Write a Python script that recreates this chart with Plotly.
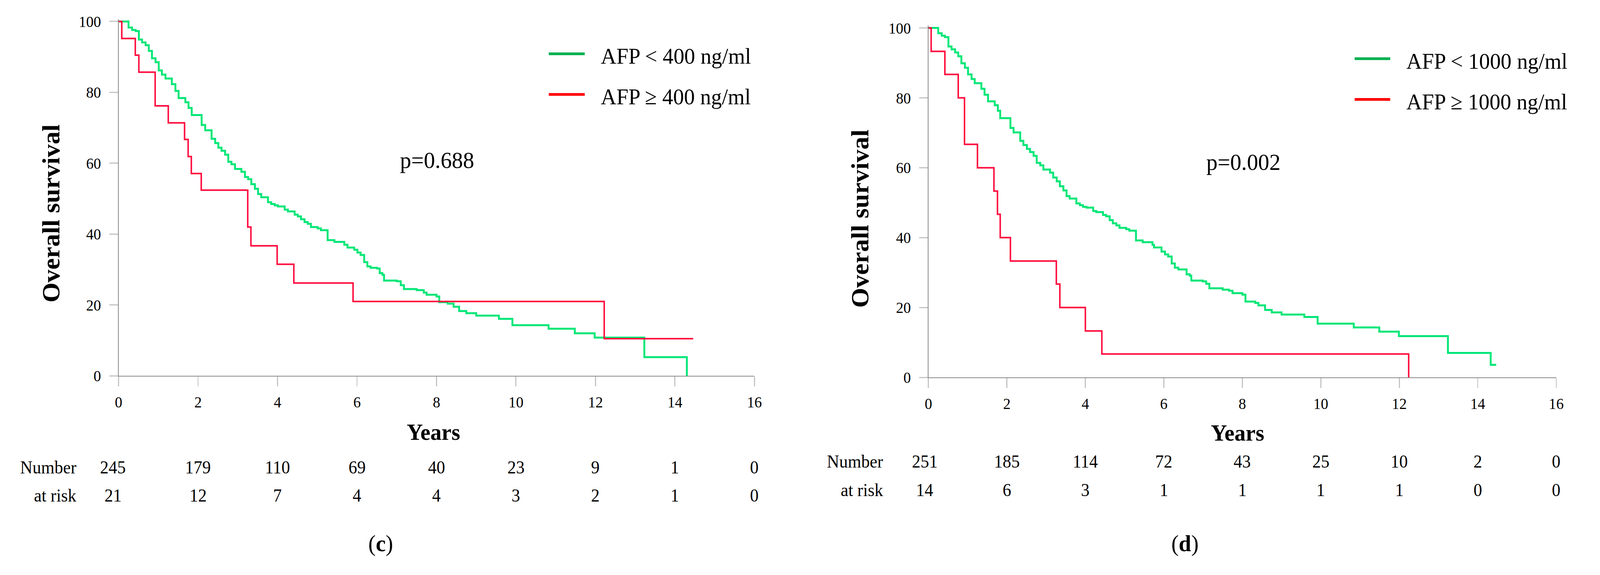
import plotly.graph_objects as go

W, H = 4288, 1472

# ---------------- data ----------------
# Panel (c): AFP cut-off 400 ng/ml
c_low_t = [0.25,0.34,0.43,0.51,0.59,0.68,0.76,0.84,0.93,1.01,1.09,1.18,1.34,1.43,1.51,1.68,1.76,1.84,2.09,2.18,
           2.34,2.43,2.51,2.59,2.68,2.76,2.84,2.93,3.09,3.18,3.26,3.34,3.43,3.51,3.59,3.76,3.84,3.93,4.01,4.18,
           4.26,4.43,4.51,4.59,4.68,4.76,4.84,5.01,5.09,5.26,5.43,5.68,5.76,5.93,6.01,6.09,6.18,6.26,6.34,6.50,
           6.57,6.64,6.68,7.00,7.10,7.18,7.50,7.68,7.75,8.00,8.07,8.28,8.43,8.57,8.75,9.00,9.57,9.91,10.82,11.48,
           11.98,13.23,14.30]
c_low_s = [98.3,97.6,97.3,94.9,94.1,93.3,91.7,89.6,88.5,86.2,85.0,83.9,82.3,80.4,78.4,77.2,75.6,73.6,70.8,69.3,
           66.9,65.7,64.4,63.5,62.4,60.4,59.7,58.4,57.6,56.1,55.5,54.1,52.8,51.3,50.4,49.0,48.5,48.1,47.8,46.9,
           46.4,45.5,45.0,44.2,43.4,42.9,42.0,41.6,41.1,38.3,37.8,37.0,36.2,35.6,34.8,34.1,32.1,30.9,30.5,30.3,
           29.0,28.5,26.9,26.7,25.6,24.5,24.2,23.5,22.9,22.4,20.8,20.4,19.5,18.3,17.7,17.0,16.1,14.3,13.3,12.0,
           10.8,5.3,0.0]
c_low_end = 14.30
c_high_t = [0.08,0.42,0.51,0.92,1.25,1.66,1.75,1.83,2.08,3.25,3.33,3.99,4.41,5.90,12.22]
c_high_s = [95.2,90.5,85.7,76.2,71.4,66.7,61.9,57.1,52.4,42.0,36.7,31.5,26.2,21.0,10.5]
c_high_end = 14.46

# Panel (d): AFP cut-off 1000 ng/ml
d_low_t = [0.25,0.34,0.42,0.51,0.59,0.68,0.76,0.84,0.93,1.01,1.10,1.18,1.35,1.43,1.52,1.69,1.77,1.83,2.09,2.17,
           2.34,2.42,2.51,2.59,2.68,2.76,2.85,2.93,3.10,3.18,3.27,3.35,3.44,3.52,3.60,3.77,3.86,3.94,4.03,4.20,
           4.28,4.45,4.53,4.62,4.70,4.79,4.87,5.04,5.12,5.29,5.46,5.71,5.75,5.94,6.03,6.11,6.20,6.28,6.37,6.58,
           6.66,6.70,6.99,7.08,7.16,7.50,7.66,7.75,8.00,8.08,8.33,8.41,8.58,8.75,9.00,9.58,9.92,10.84,11.49,11.99,
           13.24,14.33]
d_low_s = [98.5,97.8,97.4,94.7,93.9,93.0,91.9,89.9,88.6,86.7,85.4,84.2,82.6,80.9,79.0,77.9,76.3,74.2,71.4,70.1,
           67.7,66.5,65.4,64.5,63.4,61.4,60.7,59.5,58.6,57.2,56.1,54.7,53.5,51.9,51.2,49.8,49.3,48.8,48.6,47.6,
           47.3,46.5,46.1,45.0,44.1,43.5,42.8,42.4,42.0,39.2,38.7,37.9,37.2,36.0,35.2,34.6,32.6,31.4,30.9,29.5,
           29.1,27.7,27.5,26.8,25.5,25.1,24.8,24.1,23.7,21.7,21.3,20.6,19.3,18.6,18.0,17.3,15.4,14.3,13.1,11.8,
           7.0,3.6]
d_low_end = 14.47
d_high_t = [0.07,0.42,0.76,0.92,1.25,1.67,1.76,1.83,2.09,3.26,3.35,4.00,4.42,12.24]
d_high_s = [93.3,86.7,80.0,66.7,60.0,53.3,46.7,40.0,33.3,26.7,20.0,13.3,6.7,0.0]
d_high_end = 12.24

risk_times = [0, 2, 4, 6, 8, 10, 12, 14, 16]
c_risk_low = [245, 179, 110, 69, 40, 23, 9, 1, 0]
c_risk_high = [21, 12, 7, 4, 4, 3, 2, 1, 0]
d_risk_low = [251, 185, 114, 72, 43, 25, 10, 2, 0]
d_risk_high = [14, 6, 3, 1, 1, 1, 1, 0, 0]

c_labels = ["AFP < 400 ng/ml", "AFP \u2265 400 ng/ml"]
d_labels = ["AFP < 1000 ng/ml", "AFP \u2265 1000 ng/ml"]
c_p = "p=0.688"
d_p = "p=0.002"

# ---------------- styling ----------------
FONT = "Liberation Serif"
GREEN = "#00E676"
RED = "#FF0A3C"
LEG_GREEN = "#00B050"
LEG_RED = "#FF0000"


def px(x):
    return x / W


def py(y):
    return 1 - y / H


def km(t, s, end):
    xs = [0] + list(t)
    ys = [100] + list(s)
    if end > xs[-1]:
        xs.append(end)
        ys.append(ys[-1])
    return xs, ys


fig = go.Figure()

panels = [
    dict(xa="x", ya="y", low=(c_low_t, c_low_s, c_low_end), high=(c_high_t, c_high_s, c_high_end)),
    dict(xa="x2", ya="y2", low=(d_low_t, d_low_s, d_low_end), high=(d_high_t, d_high_s, d_high_end)),
]
for p in panels:
    x, y = km(*p["low"])
    fig.add_trace(go.Scatter(x=x, y=y, mode="lines", line=dict(color=GREEN, width=5, shape="hv"),
                             xaxis=p["xa"], yaxis=p["ya"], showlegend=False))
    x, y = km(*p["high"])
    fig.add_trace(go.Scatter(x=x, y=y, mode="lines", line=dict(color=RED, width=4, shape="hv"),
                             xaxis=p["xa"], yaxis=p["ya"], showlegend=False))

axis_common = dict(showline=True, linecolor="#8a8a8a", linewidth=2, ticks="outside", tickcolor="#c4c4c4",
                   tickwidth=3, showgrid=False, zeroline=False, tickfont=dict(family=FONT, size=40, color="black"))

fig.update_layout(
    width=W, height=H, plot_bgcolor="white", paper_bgcolor="white",
    margin=dict(l=0, r=0, t=0, b=0), showlegend=False,
    xaxis=dict(domain=[px(310), px(2026)], range=[0, 16], tickvals=risk_times, ticklen=25,
               ticklabelstandoff=6, anchor="y", **axis_common),
    yaxis=dict(domain=[py(972), py(33.5)], range=[0, 100.7], tickvals=[0, 20, 40, 60, 80, 100], ticklen=23,
               ticklabelstandoff=14, anchor="x", **axis_common),
    xaxis2=dict(domain=[px(2495.6), px(4190)], range=[0, 16], tickvals=risk_times, ticklen=25,
                ticklabelstandoff=6, anchor="y2", **axis_common),
    yaxis2=dict(domain=[py(976), py(50.7)], range=[0, 100.7], tickvals=[0, 20, 40, 60, 80, 100], ticklen=23,
                ticklabelstandoff=14, anchor="x2", **axis_common),
)

ann = []
shapes = []


def text(x, y, s, size, bold=False, xanchor="center", angle=0, xref="paper", xshift=0):
    ann.append(dict(x=x if xref != "paper" else px(x), y=py(y), xref=xref, yref="paper", text=s,
                    showarrow=False, xanchor=xanchor, yanchor="middle", textangle=angle, xshift=xshift,
                    font=dict(family=FONT, size=size, color="black", weight="bold" if bold else "normal")))


# axis titles
text(128, 545, "Overall survival", 66, bold=True, angle=-90)
text(2311, 559, "Overall survival", 66, bold=True, angle=-90)
text(1160, 1120, "Years", 60, bold=True)
text(3330, 1122, "Years", 60, bold=True)

# p-values
text(1170, 405, c_p, 60)
text(3346, 410, d_p, 60)

# legends
for (lx0, lx1, tx, ys, labels) in [(1471, 1568, 1609, (125, 232), c_labels),
                                    (3646, 3742, 3783, (138, 245), d_labels)]:
    for yy, col, lab in zip(ys, (LEG_GREEN, LEG_RED), labels):
        shapes.append(dict(type="line", xref="paper", yref="paper", x0=px(lx0), x1=px(lx1), y0=py(yy), y1=py(yy),
                           line=dict(color=col, width=7)))
        text(tx, yy + 6, lab, 58, xanchor="left")

# number at risk tables
for (xa, lx, ys, rows, first_shift) in [("x", 198, (1213, 1287), (c_risk_low, c_risk_high), -15),
                                          ("x2", 2376, (1197, 1272), (d_risk_low, d_risk_high), -10)]:
    text(lx, ys[0], "Number", 46, xanchor="right")
    text(lx, ys[1], "at risk", 46, xanchor="right")
    for yy, row in zip(ys, rows):
        for i, (t, n) in enumerate(zip(risk_times, row)):
            text(t, yy, str(n), 46, xref=xa, xshift=first_shift if i == 0 else 0)

# panel labels
text(1018, 1412, "(<b>c</b>)", 60)
text(3188, 1412, "(<b>d</b>)", 60)

fig.update_layout(annotations=ann, shapes=shapes)

# page: no body margin / scrollbars; if the visible window is smaller than the
# 4288x1472 figure, scale the whole figure so that it fills the window exactly
page_js = (
    "document.body.style.margin='0';document.body.style.padding='0';"
    "document.documentElement.style.overflow='hidden';document.body.style.overflow='hidden';"
    "var gd=document.getElementById('{plot_id}');"
    "var sx=window.innerWidth/" + str(W) + ", sy=window.innerHeight/" + str(H) + ";"
    "gd.style.transformOrigin='0 0';"
    "gd.style.transform='scale('+sx+','+sy+')';"
)
fig.write_html("out.html", post_script=page_js, config={"displayModeBar": False})
